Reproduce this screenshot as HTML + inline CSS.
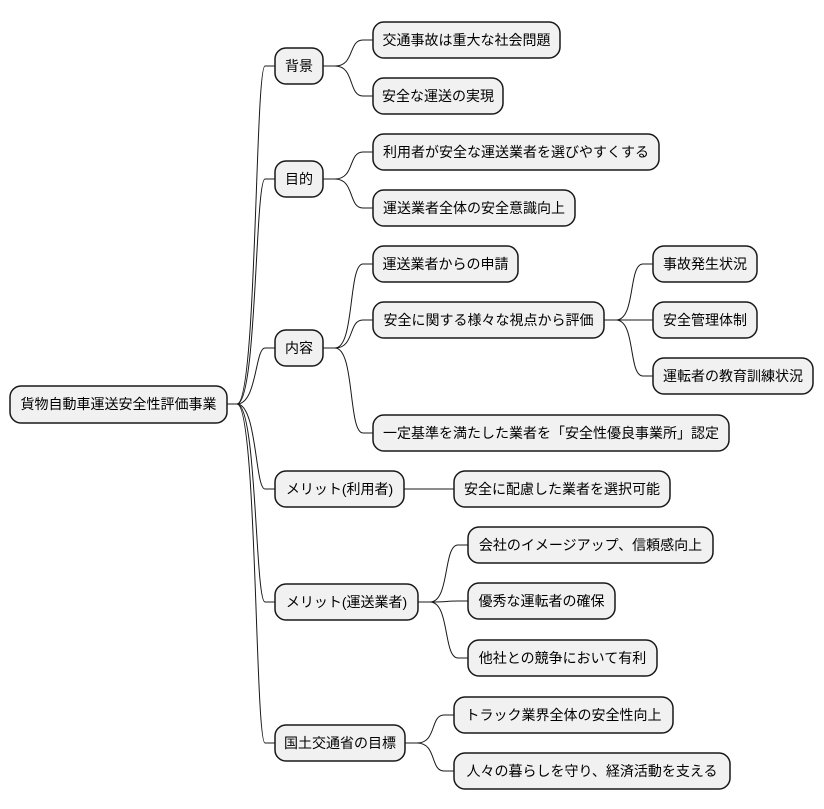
<!DOCTYPE html>
<html><head><meta charset="utf-8"><style>body{margin:0;background:#fff}svg{display:block}text{font-family:"Liberation Sans","Noto Sans CJK JP",sans-serif;font-size:14px;fill:#000}</style></head><body>
<svg width="824" height="809" xmlns="http://www.w3.org/2000/svg">
<g fill="none" stroke="#181818" stroke-width="1">
<path d="M227 404 L237 404 C257 404,255 66,265 66 L275 66"/>
<path d="M227 404 L237 404 C257 404,255 179,265 179 L275 179"/>
<path d="M227 404 L237 404 C257 404,255 348,265 348 L275 348"/>
<path d="M227 404 L237 404 C257 404,255 489,265 489 L275 489"/>
<path d="M227 404 L237 404 C257 404,255 602,265 602 L275 602"/>
<path d="M227 404 L237 404 C257 404,255 743,265 743 L275 743"/>
<path d="M323 66 L335 66 C355 66,348 40,363 40 L373 40"/>
<path d="M323 66 L335 66 C355 66,348 96,363 96 L373 96"/>
<path d="M323 179 L335 179 C355 179,348 152,363 152 L373 152"/>
<path d="M323 179 L335 179 C355 179,348 208,363 208 L373 208"/>
<path d="M323 348 L335 348 C355 348,348 264,363 264 L373 264"/>
<path d="M323 348 L335 348 C355 348,348 320,363 320 L373 320"/>
<path d="M323 348 L335 348 C355 348,348 433,363 433 L373 433"/>
<path d="M604 320 L616 320 C636 320,628 264,643 264 L653 264"/>
<path d="M604 320 L616 320 C636 320,628 320,643 320 L653 320"/>
<path d="M604 320 L616 320 C636 320,628 376,643 376 L653 376"/>
<path d="M404 489 L454 489"/>
<path d="M418 602 L430 602 C450 602,443 545,458 545 L468 545"/>
<path d="M418 602 L430 602 C450 602,443 601,458 601 L468 601"/>
<path d="M418 602 L430 602 C450 602,443 658,458 658 L468 658"/>
<path d="M405 743 L417 743 C437 743,430 715,444 715 L454 715"/>
<path d="M405 743 L417 743 C437 743,430 771,444 771 L454 771"/>
</g>
<g fill="#f1f1f1" stroke="#181818" stroke-width="1.5">
<rect x="10" y="386" width="217" height="37" rx="11"/>
<rect x="275" y="48" width="48" height="36" rx="11"/>
<rect x="275" y="161" width="48" height="36" rx="11"/>
<rect x="275" y="330" width="48" height="36" rx="11"/>
<rect x="275" y="471" width="129" height="36" rx="11"/>
<rect x="275" y="584" width="143" height="36" rx="11"/>
<rect x="275" y="725" width="130" height="36" rx="11"/>
<rect x="373" y="22" width="187" height="36" rx="11"/>
<rect x="373" y="78" width="130" height="36" rx="11"/>
<rect x="373" y="134" width="286" height="36" rx="11"/>
<rect x="373" y="190" width="202" height="36" rx="11"/>
<rect x="373" y="246" width="145" height="36" rx="11"/>
<rect x="373" y="302" width="231" height="36" rx="11"/>
<rect x="373" y="415" width="356" height="36" rx="11"/>
<rect x="653" y="246" width="104" height="36" rx="11"/>
<rect x="653" y="302" width="104" height="36" rx="11"/>
<rect x="653" y="358" width="160" height="36" rx="11"/>
<rect x="454" y="471" width="216" height="36" rx="11"/>
<rect x="468" y="527" width="245" height="36" rx="11"/>
<rect x="468" y="583" width="147" height="36" rx="11"/>
<rect x="468" y="640" width="189" height="36" rx="11"/>
<rect x="454" y="697" width="219" height="36" rx="11"/>
<rect x="454" y="753" width="276" height="36" rx="11"/>
</g>
<g text-anchor="middle">
<text x="118.5" y="409">貨物自動車運送安全性評価事業</text>
<text x="299" y="71">背景</text>
<text x="299" y="184">目的</text>
<text x="299" y="353">内容</text>
<text x="339.5" y="494">メリット(利用者)</text>
<text x="346.5" y="607">メリット(運送業者)</text>
<text x="340" y="748">国土交通省の目標</text>
<text x="466.5" y="45">交通事故は重大な社会問題</text>
<text x="438" y="101">安全な運送の実現</text>
<text x="516" y="157">利用者が安全な運送業者を選びやすくする</text>
<text x="474" y="213">運送業者全体の安全意識向上</text>
<text x="445.5" y="269">運送業者からの申請</text>
<text x="488.5" y="325">安全に関する様々な視点から評価</text>
<text x="551" y="438">一定基準を満たした業者を「安全性優良事業所」認定</text>
<text x="705" y="269">事故発生状況</text>
<text x="705" y="325">安全管理体制</text>
<text x="733" y="381">運転者の教育訓練状況</text>
<text x="562" y="494">安全に配慮した業者を選択可能</text>
<text x="590.5" y="550">会社のイメージアップ、信頼感向上</text>
<text x="541.5" y="606">優秀な運転者の確保</text>
<text x="562.5" y="663">他社との競争において有利</text>
<text x="563.5" y="720">トラック業界全体の安全性向上</text>
<text x="592" y="776">人々の暮らしを守り、経済活動を支える</text>
</g>
</svg>
</body></html>
